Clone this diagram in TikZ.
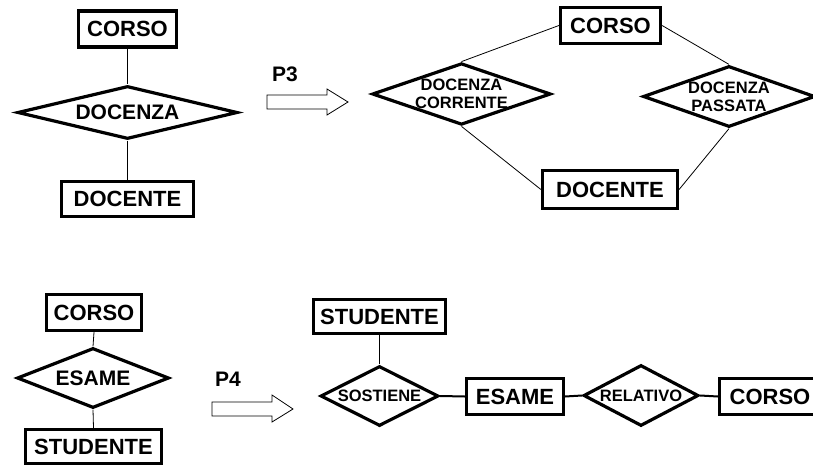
\documentclass[tikz,border=0pt]{standalone}
\usepackage{fontspec}
\setmainfont{Liberation Sans}
\usetikzlibrary{shapes.geometric}
\begin{document}
\begin{tikzpicture}[x=1pt,y=-1pt,
  entity/.style={draw,line width=3.2pt,rectangle,inner sep=0pt,
    font=\bfseries\fontsize{22}{24}\selectfont},
  relbig/.style={draw,line width=3.2pt,diamond,inner sep=0pt,
    font=\bfseries\fontsize{21}{23}\selectfont},
  relsmall/.style={draw,line width=3.2pt,diamond,inner sep=0pt,align=center,
    font=\bfseries\fontsize{16.5}{18}\selectfont},
  link/.style={line width=0.8pt},
  linkthick/.style={line width=2pt},
  steplabel/.style={font=\bfseries\fontsize{21}{23}\selectfont},
  blockarrow/.style={draw,line width=0.8pt,fill=white}
]
\useasboundingbox (0,0) rectangle (813,468);
\clip (0,0) rectangle (813,468);

% ---- P3: DOCENZA split into current and past ----
\node[entity,minimum width=98,minimum height=36] (c1) at (127.5,29) {CORSO};
\node[relbig,minimum width=220,minimum height=53,shape aspect=4.1] (d1) at (127.5,112.5) {DOCENZA};
\node[entity,minimum width=132,minimum height=35] (t1) at (127.5,199) {DOCENTE};
\draw[link] (c1.south) -- (d1.north);
\draw[link] (d1.south) -- (t1.north);

\node[steplabel] (p3) at (285,74) {P3};
\draw[blockarrow] (267,95) -- (327,95) -- (327,89) -- (348,102) -- (327,115)
  -- (327,109) -- (267,109) -- cycle;

\node[entity,minimum width=100,minimum height=36] (c2) at (610.5,25.5) {CORSO};
\node[relsmall,minimum width=174,minimum height=60,shape aspect=2.9] (d2) at (461.5,94) {DOCENZA\\CORRENTE};
\node[relsmall,minimum width=172,minimum height=61,shape aspect=2.8] (d3) at (729,96.5) {DOCENZA\\PASSATA};
\node[entity,minimum width=135,minimum height=38] (t2) at (610,189.5) {DOCENTE};
\draw[link] (c2.west) -- (d2.north);
\draw[link] (c2.east) -- (d3.north);
\draw[link] (d2.south) -- (t2.west);
\draw[link] (d3.south) -- (t2.east);

% ---- P4: ESAME promoted to an entity ----
\node[entity,minimum width=95,minimum height=36] (c3) at (94,312.5) {CORSO};
\node[relbig,minimum width=152,minimum height=60,shape aspect=2.5] (d4) at (93,378) {ESAME};
\node[entity,minimum width=136,minimum height=34] (s1) at (93.5,446.5) {STUDENTE};
\draw[link] (c3.south) -- (d4.north);
\draw[link] (d4.south) -- (s1.north);

\node[steplabel] (p4) at (228,379) {P4};
\draw[blockarrow] (212,402) -- (272,402) -- (272,395) -- (293,409) -- (272,422)
  -- (272,416) -- (212,416) -- cycle;

\node[entity,minimum width=132,minimum height=34] (s2) at (379.5,316.5) {STUDENTE};
\node[relsmall,minimum width=118,minimum height=60,shape aspect=2] (d5) at (379.5,396) {SOSTIENE};
\node[entity,minimum width=97,minimum height=36] (e2) at (515,396.5) {ESAME};
\node[relsmall,minimum width=115,minimum height=61,shape aspect=1.9] (d6) at (641,395.5) {RELATIVO};
\node[entity,minimum width=101,minimum height=36] (c4) at (770,396.5) {CORSO};
\draw[link] (s2.south) -- (d5.north);
\draw[linkthick] (d5.east) -- (e2.west);
\draw[linkthick] (e2.east) -- (d6.west);
\draw[linkthick] (d6.east) -- (c4.west);
\end{tikzpicture}
\end{document}
